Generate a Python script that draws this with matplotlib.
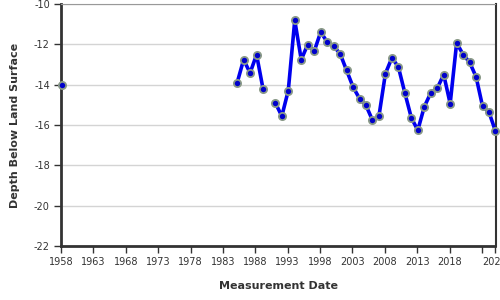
import numpy as np
import matplotlib
matplotlib.use("Agg")
import matplotlib.pyplot as plt

plt.rcParams['axes.unicode_minus'] = False
plt.rcParams['font.family'] = ['DejaVu Sans']

years = [1958.1, 1959.1,
         1985.2, 1986.2, 1987.2, 1988.2, 1989.2, 1990.2,
         1991.1, 1992.1, 1993.1, 1994.1, 1995.1, 1996.1, 1997.1, 1998.1, 1999.1,
         2000.1, 2001.1, 2002.1, 2003.1, 2004.1, 2005.1, 2006.1, 2007.1, 2008.1,
         2009.1, 2010.1, 2011.1, 2012.1, 2013.1, 2014.1, 2015.1, 2016.1, 2017.1,
         2018.1, 2019.1, 2020.1, 2021.1, 2022.1, 2023.1, 2024.1, 2025.1]
depth = [-14.04, np.nan,
         -13.91, -12.76, -13.42, -12.51, -14.21, np.nan,
         -14.90, -15.56, -14.29, -10.81, -12.76, -12.01, -12.35, -11.39, -11.88,
         -12.10, -12.46, -13.29, -14.11, -14.69, -15.03, -15.76, -15.56, -13.45,
         -12.67, -13.12, -14.41, -15.64, -16.26, -15.10, -14.41, -14.18, -13.50,
         -14.94, -11.93, -12.51, -12.89, -13.61, -15.07, -15.37, -16.31]

xticks = [1958, 1963, 1968, 1973, 1978, 1983, 1988, 1993, 1998, 2003, 2008, 2013, 2018, 2023, 2025]
xticklabels = ['1958', '1963', '1968', '1973', '1978', '1983', '1988', '1993', '1998',
               '2003', '2008', '2013', '2018', '', '2025']
yticks = [-22, -20, -18, -16, -14, -12, -10]

fig = plt.figure(figsize=(5, 3), dpi=100)
ax = fig.add_axes([0.122, 0.18, 0.869, 0.8067])

ax.plot(years, depth, color='#0000ee', lw=2.6, marker='o', markersize=5.2,
        markerfacecolor='#0000cc', markeredgecolor='#8a9a88', markeredgewidth=1.3,
        zorder=3, clip_on=False)

ax.set_xlim(1958, 2025.1)
ax.set_ylim(-22, -10)
ax.set_xticks(xticks)
ax.set_xticklabels(xticklabels)
ax.set_yticks(yticks)
ax.grid(axis='y', color='#d4d4d4', lw=1)
ax.set_axisbelow(True)

for s in ['left', 'bottom']:
    ax.spines[s].set_color('#333333')
    ax.spines[s].set_linewidth(2)
ax.spines['right'].set_color('#333333')
ax.spines['right'].set_linewidth(1.5)
ax.spines['top'].set_color('#999999')
ax.spines['top'].set_linewidth(0.8)

ax.tick_params(axis='both', direction='out', length=5, width=1, color='#333333',
               labelsize=7, labelcolor='#333333', pad=3)

ax.set_xlabel('Measurement Date', fontsize=8, fontweight='bold', color='#333333', labelpad=10)
ax.set_ylabel('Depth Below Land Surface', fontsize=8, fontweight='bold', color='#333333', labelpad=10)

fig.savefig('out.png', dpi=100)
